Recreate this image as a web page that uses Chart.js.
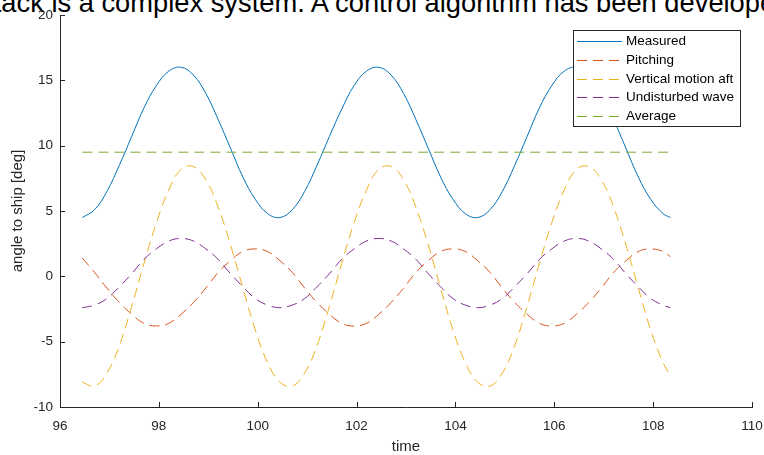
<!DOCTYPE html>
<html lang="en">
<head>
    <meta charset="UTF-8">
    <script src="https://cdn.jsdelivr.net/npm/chart.js@4.4.1/dist/chart.umd.min.js"></script>
    <title>angle to ship</title>
    <style>
        body { margin: 0; background: #fff; overflow: hidden; }
        .wrapper { position: relative; width: 764px; height: 455px; overflow: hidden; }
        .pagetext { position: absolute; left: -29px; top: -11px; white-space: nowrap;
                    font: 27.3px "Liberation Sans", Arial, sans-serif; line-height: 1; color: #000; }
        canvas { position: absolute; left: 0; top: 0; }
    </style>
</head>
<body>
    <div class="wrapper">
        <div class="pagetext">attack is a complex system. A control algorithm has been developed</div>
        <canvas id="canvas" width="764" height="455"></canvas>
    </div>
<script>

// values
const time = [96.45, 96.7, 96.95, 97.2, 97.45, 97.7, 97.95, 98.2, 98.45, 98.7, 98.95, 99.2, 99.45, 99.7, 99.95, 100.2,
              100.45, 100.7, 100.95, 101.2, 101.45, 101.7, 101.95, 102.2, 102.45, 102.7, 102.95, 103.2, 103.45, 103.7, 103.95, 104.2,
              104.45, 104.7, 104.95, 105.2, 105.45, 105.7, 105.95, 106.2, 106.45, 106.7, 106.95, 107.2, 107.45, 107.7, 107.95, 108.2, 108.35]

const measured = [4.5, 5.1, 6.5, 8.5, 10.7, 12.9, 14.6, 15.7, 16.0, 15.4, 14.0, 12.0, 9.8, 7.6, 5.9, 4.8,
                  4.5, 5.1, 6.5, 8.5, 10.7, 12.8, 14.6, 15.7, 16.0, 15.4, 14.0, 12.0, 9.8, 7.6, 5.9, 4.8,
                  4.5, 5.1, 6.5, 8.5, 10.7, 12.9, 14.6, 15.7, 16.0, 15.4, 14.0, 12.0, 9.8, 7.6, 5.9, 4.8, 4.5]

const pitching = [1.4, 0.3, -0.9, -2.0, -2.9, -3.6, -3.8, -3.6, -2.9, -2.0, -0.9, 0.3, 1.2, 1.9, 2.1, 1.9,
                  1.2, 0.3, -0.9, -2.0, -2.9, -3.6, -3.8, -3.6, -2.9, -2.0, -0.9, 0.3, 1.2, 1.9, 2.1, 1.9,
                  1.2, 0.3, -0.9, -2.0, -2.9, -3.6, -3.8, -3.6, -2.9, -2.0, -0.9, 0.3, 1.2, 1.9, 2.1, 1.9, 1.5]

const verticalAft = [-8.1, -8.4, -7.4, -5.3, -2.3, 1.0, 4.1, 6.6, 8.2, 8.4, 7.4, 5.3, 2.4, -0.9, -4.1, -6.6,
                     -8.1, -8.4, -7.4, -5.3, -2.3, 1.0, 4.1, 6.6, 8.2, 8.4, 7.4, 5.3, 2.4, -0.9, -4.1, -6.6,
                     -8.1, -8.4, -7.4, -5.3, -2.3, 1.0, 4.1, 6.6, 8.2, 8.4, 7.4, 5.3, 2.4, -0.9, -4.1, -6.6, -7.6]

const wave = [-2.4, -2.2, -1.7, -0.8, 0.2, 1.3, 2.1, 2.7, 2.9, 2.7, 2.1, 1.3, 0.2, -0.8, -1.7, -2.2,
              -2.4, -2.2, -1.7, -0.8, 0.2, 1.3, 2.1, 2.7, 2.9, 2.7, 2.1, 1.3, 0.2, -0.8, -1.7, -2.2,
              -2.4, -2.2, -1.7, -0.8, 0.2, 1.3, 2.1, 2.7, 2.9, 2.7, 2.1, 1.3, 0.2, -0.8, -1.7, -2.2, -2.4]

const avgTime = [96.45, 108.35]
const average = [9.5, 9.5]

const labels = ['Measured', 'Pitching', 'Vertical motion aft', 'Undisturbed wave', 'Average']

const axisColor = '#262626'
const dash = [10, 6]

function pts(xs, ys) {
    return xs.map((x, i) => ({x: x, y: ys[i]}))
}

// inward tick marks like the original plot
const innerTicks = {
    id: 'innerTicks',
    afterDraw(chart) {
        const {ctx, chartArea: a, scales: {x, y}} = chart
        ctx.save()
        ctx.strokeStyle = axisColor
        ctx.lineWidth = 1
        ctx.beginPath()
        x.ticks.forEach(t => {
            const px = Math.round(x.getPixelForValue(t.value)) + 0.5
            ctx.moveTo(px, a.bottom)
            ctx.lineTo(px, a.bottom - 5)
        })
        y.ticks.forEach(t => {
            const py = Math.round(y.getPixelForValue(t.value)) + 0.5
            ctx.moveTo(a.left, py)
            ctx.lineTo(a.left + 5, py)
        })
        ctx.stroke()
        ctx.restore()
    }
}

// boxed legend inside the plot, top right
const boxLegend = {
    id: 'boxLegend',
    afterDraw(chart) {
        const ctx = chart.ctx
        const bx = 573.5, by = 30.5, bw = 167, bh = 96
        ctx.save()
        ctx.fillStyle = '#fff'
        ctx.fillRect(bx, by, bw, bh)
        ctx.strokeStyle = axisColor
        ctx.lineWidth = 1
        ctx.strokeRect(bx, by, bw, bh)
        ctx.font = '13.5px "Liberation Sans", Arial, sans-serif'
        ctx.textBaseline = 'middle'
        ctx.fillStyle = '#000'
        chart.data.datasets.forEach((ds, i) => {
            const ry = Math.round(41 + i * 18.75) + 0.5
            ctx.strokeStyle = ds.borderColor
            ctx.lineWidth = 1
            ctx.setLineDash(ds.borderDash || [])
            ctx.beginPath()
            ctx.moveTo(577, ry)
            ctx.lineTo(622, ry)
            ctx.stroke()
            ctx.setLineDash([])
            ctx.fillText(ds.label, 626, ry)
        })
        ctx.restore()
    }
}

window.onload = () => {
    const tickFont = {family: '"Liberation Sans", Arial, sans-serif', size: 13.5}
    const titleFont = {family: '"Liberation Sans", Arial, sans-serif', size: 15, lineHeight: 1}

    let myChart = document.getElementById('canvas')
    let lineChart = new Chart(myChart, {
        type: 'line',
        data: {
            datasets: [
                {label: labels[0], data: pts(time, measured), borderColor: '#0072BD', order: 5},
                {label: labels[1], data: pts(time, pitching), borderColor: '#D95319', borderDash: dash, order: 4},
                {label: labels[2], data: pts(time, verticalAft), borderColor: '#EDB120', borderDash: dash, order: 3},
                {label: labels[3], data: pts(time, wave), borderColor: '#7E2F8E', borderDash: dash, order: 2},
                {label: labels[4], data: pts(avgTime, average), borderColor: '#77AC30', borderDash: dash, order: 1}
            ]
        },
        options: {
            responsive: false,
            animation: false,
            layout: {padding: {top: 15, right: 12, left: 0, bottom: 0}},
            elements: {
                line: {borderWidth: 1, tension: 0.4, fill: false},
                point: {radius: 0}
            },
            plugins: {legend: {display: false}, tooltip: {enabled: false}},
            scales: {
                x: {
                    type: 'linear', min: 96, max: 110,
                    ticks: {stepSize: 2, color: axisColor, font: tickFont, padding: 11, maxRotation: 0},
                    grid: {display: false, drawTicks: false},
                    border: {color: axisColor, width: 1},
                    title: {display: true, text: 'time', color: axisColor, font: titleFont, padding: {top: 0, bottom: 0.5}},
                    afterFit(s) { s.height = 48; s.paddingLeft = 0; s.paddingRight = 0 }
                },
                y: {
                    min: -10, max: 20,
                    ticks: {stepSize: 5, color: axisColor, font: tickFont, padding: 7},
                    grid: {display: false, drawTicks: false},
                    border: {color: axisColor, width: 1},
                    title: {display: true, text: 'angle to ship [deg]', color: axisColor, font: titleFont, padding: {top: 10.5, bottom: 0}},
                    afterFit(s) { s.width = 60; s.paddingTop = 0; s.paddingBottom = 0 }
                }
            }
        },
        plugins: [innerTicks, boxLegend]
    })
}
</script>
</body>
</html>
